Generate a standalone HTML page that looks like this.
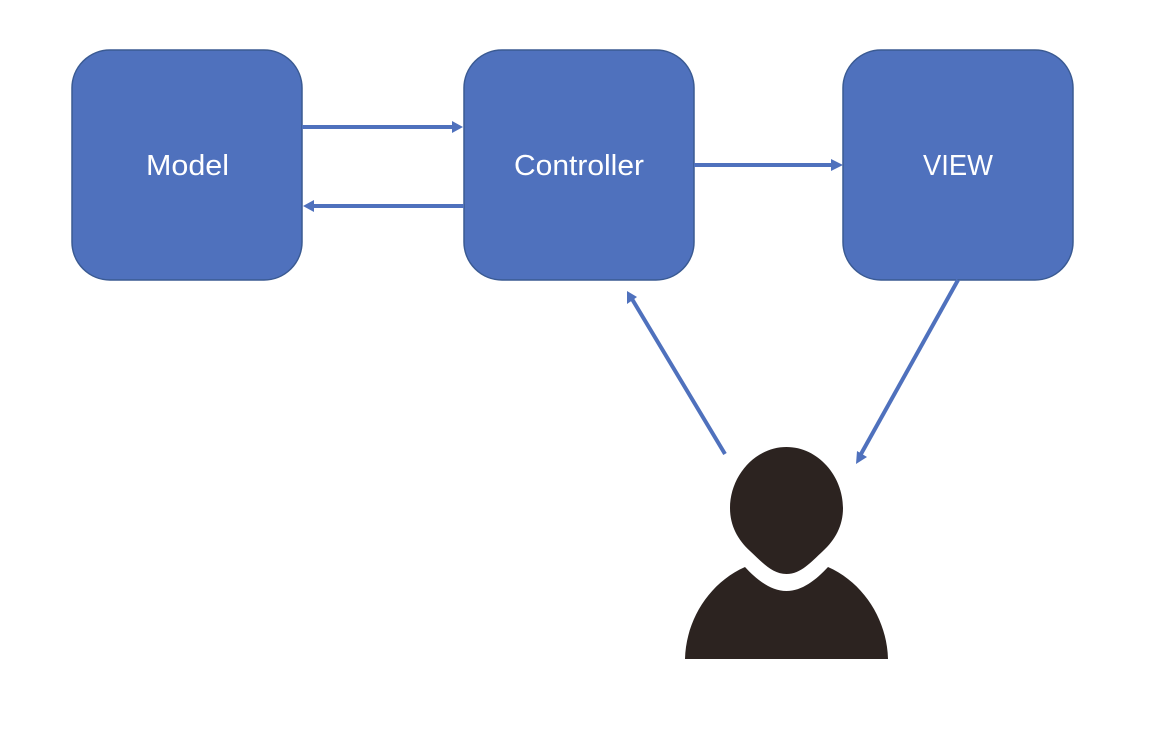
<!DOCTYPE html>
<html>
<head>
<meta charset="utf-8">
<style>
html,body{margin:0;padding:0;background:#fff;}
svg{display:block;}
text{font-family:"Liberation Sans",sans-serif;font-size:29px;fill:#fff;text-anchor:start;}
</style>
</head>
<body>
<svg width="1174" height="740" viewBox="0 0 1174 740" xmlns="http://www.w3.org/2000/svg">
<rect width="1174" height="740" fill="#fff"/>
<g fill="#4f71bd" stroke="#3a5a92" stroke-width="1.5">
<rect x="72" y="50" width="230" height="230" rx="38" ry="38"/>
<rect x="464" y="50" width="230" height="230" rx="38" ry="38"/>
<rect x="843" y="50" width="230" height="230" rx="38" ry="38"/>
</g>
<text x="146" y="175" textLength="83" lengthAdjust="spacingAndGlyphs">Model</text>
<text x="514" y="175" textLength="130" lengthAdjust="spacingAndGlyphs">Controller</text>
<text x="923" y="175" textLength="70" lengthAdjust="spacingAndGlyphs">VIEW</text>
<g stroke="#4f71bd" stroke-width="4" fill="none">
<line x1="302" y1="127" x2="454" y2="127"/>
<line x1="464" y1="206" x2="312" y2="206"/>
<line x1="694" y1="165" x2="834" y2="165"/>
<line x1="725" y1="454" x2="632" y2="299"/>
<line x1="958" y1="280" x2="861" y2="454"/>
</g>
<g fill="#4f71bd">
<polygon points="463,127 452,121 452,133"/>
<polygon points="303,206 314,200 314,212"/>
<polygon points="843,165 831,159 831,171"/>
<polygon points="627,291 637,297 627,304"/>
<polygon points="856,464 857,451 867,457"/>
</g>
<g fill="#2c2320">
<path d="M786.5,447 C755,447 730,476 730,508 C730,526 738,540 750,551 C762,562 772,574 786.5,574 C801,574 811,562 823,551 C835,540 843,526 843,508 C843,476 818,447 786.5,447 Z"/>
<path d="M745,567 C757,580 771,591 786.5,591 C802,591 816,580 828,567 C864,583 887,620 888,659 L685,659 C686,620 709,583 745,567 Z"/>
</g>
</svg>
</body>
</html>
